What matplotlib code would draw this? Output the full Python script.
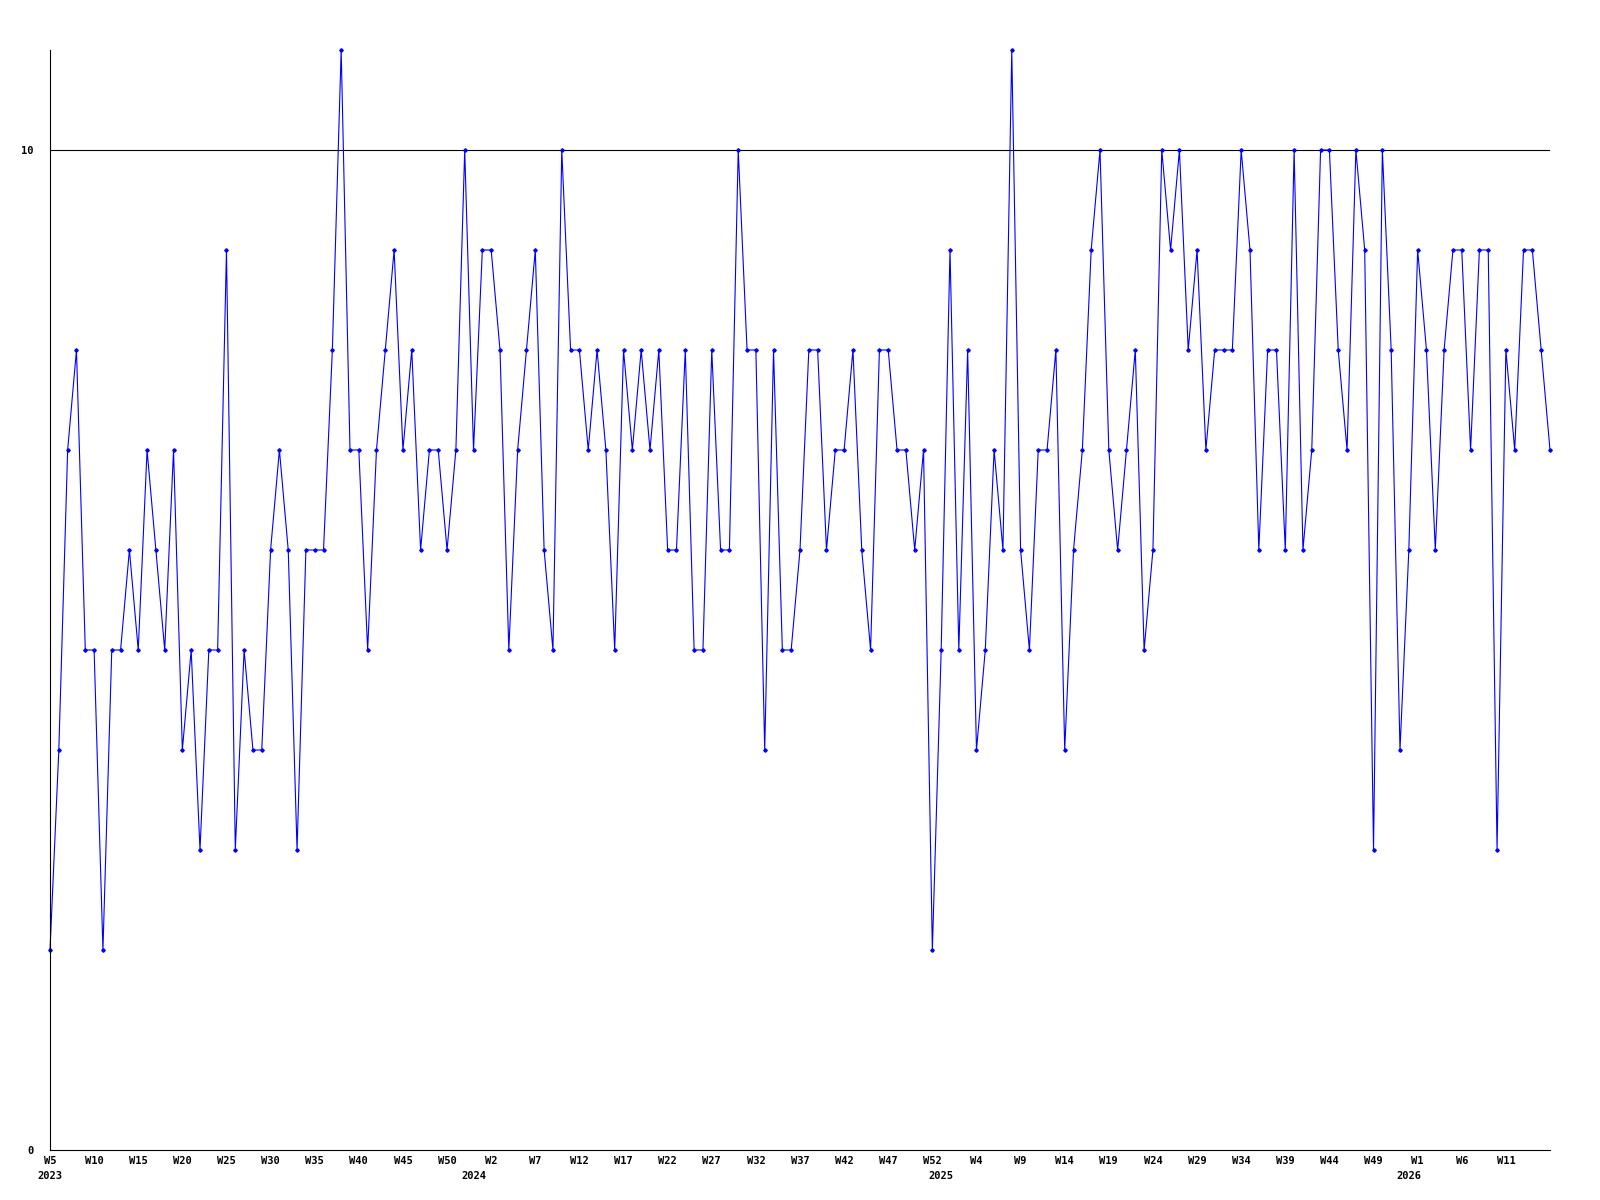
import numpy as np
import matplotlib
matplotlib.use('Agg')
import matplotlib.pyplot as plt
import matplotlib.transforms as mtransforms

# weekly values, 2023 W5 .. 2026 W16
values = [2, 4, 7, 8, 5, 5, 2, 5, 5, 6, 5, 7, 6, 5, 7, 4, 5, 3, 5, 5, 9, 3,
          5, 4, 4, 6, 7, 6, 3, 6, 6, 6, 8, 11, 7, 7, 5, 7, 8, 9, 7, 8, 6, 7,
          7, 6, 7, 10, 7, 9, 9, 8, 5, 7, 8, 9, 6, 5, 10, 8, 8, 7, 8, 7, 5, 8,
          7, 8, 7, 8, 6, 6, 8, 5, 5, 8, 6, 6, 10, 8, 8, 4, 8, 5, 5, 6, 8, 8,
          6, 7, 7, 8, 6, 5, 8, 8, 7, 7, 6, 7, 2, 5, 9, 5, 8, 4, 5, 7, 6, 11, 6,
          5, 7, 7, 8, 4, 6, 7, 9, 10, 7, 6, 7, 8, 5, 6, 10, 9, 10, 8, 9, 7, 8,
          8, 8, 10, 9, 6, 8, 8, 6, 10, 6, 7, 10, 10, 8, 7, 10, 9, 3, 10, 8, 4, 6,
          9, 8, 6, 8, 9, 9, 7, 9, 9, 3, 8, 7, 9, 9, 8, 7]

week_ticks = ['W5', 'W10', 'W15', 'W20', 'W25', 'W30', 'W35', 'W40', 'W45', 'W50',
              'W2', 'W7', 'W12', 'W17', 'W22', 'W27', 'W32', 'W37', 'W42', 'W47',
              'W52', 'W4', 'W9', 'W14', 'W19', 'W24', 'W29', 'W34', 'W39', 'W44',
              'W49', 'W1', 'W6', 'W11']
years = ['2023', '2024', '2025', '2026']
year_start = [0, 48, 101, 154]   # roughly where each year's label sits
ref_level = 10


def main():
    font = {'family': 'DejaVu Sans Mono', 'weight': 'bold', 'size': 7.5}
    x = np.arange(len(values))

    fig = plt.figure(figsize=(16, 12), dpi=100)
    ax = fig.add_axes([50 / 1600, 50 / 1200, 1500 / 1600, 1100 / 1200])

    ax.axhline(ref_level, color='black', lw=0.8)
    ax.plot(x, values, color='#0000ff', lw=0.8, marker='D', ms=1.8,
            mec='#0000ff', mfc='#0000ff', clip_on=False)

    ax.set_xlim(0, len(values) - 1)
    ax.set_ylim(0, 11)
    for s in ['top', 'right']:
        ax.spines[s].set_visible(False)
    ax.spines['left'].set_linewidth(0.8)
    ax.spines['bottom'].set_linewidth(0.8)

    ax.set_yticks([0, 10])
    ax.set_yticklabels(['0', '10'], fontdict=font)
    ax.set_xticks(x[::5][:len(week_ticks)])
    ax.set_xticklabels(week_ticks, fontdict=font)
    ax.tick_params(axis='both', length=0)
    ax.tick_params(axis='x', pad=4)
    ax.tick_params(axis='y', pad=12)

    trans = mtransforms.blended_transform_factory(ax.transData, ax.transAxes)
    for yr, i in zip(years, year_start):
        ax.text(i, -0.024, yr, transform=trans, ha='center', va='center',
                fontdict=font)

    plt.savefig('out.png', dpi=100)
    plt.close('all')


if __name__ == '__main__':
    main()
